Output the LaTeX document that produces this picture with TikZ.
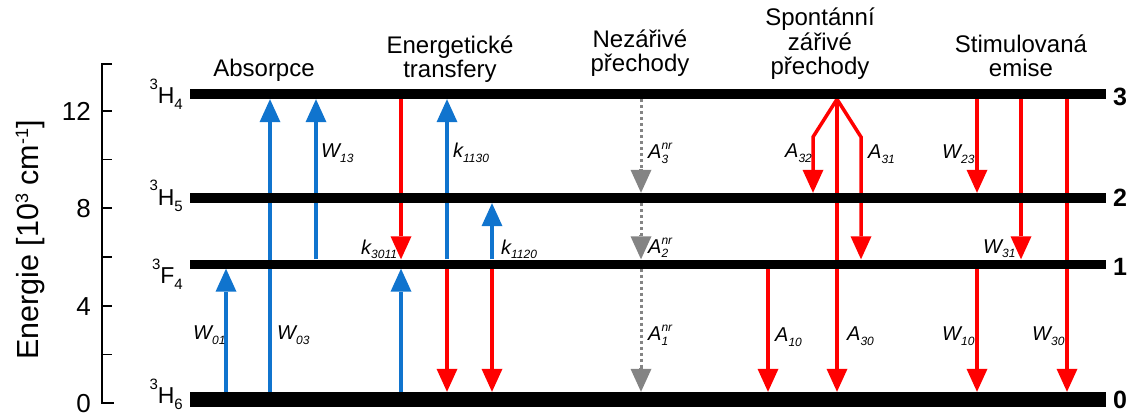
\documentclass[tikz,border=0pt]{standalone}
\usepackage{fontspec}
\setmainfont{Liberation Sans}
\usetikzlibrary{arrows.meta,backgrounds,calc}

\definecolor{absblue}{RGB}{16,116,206}
\definecolor{emitred}{RGB}{255,0,0}
\definecolor{nrgray}{RGB}{132,132,132}

% italic rate symbol with subscript
\newcommand\rate[2]{{\itshape #1}{\fontsize{12}{12}\selectfont\itshape\raisebox{-5pt}{#2}}}
% non-radiative rate: superscript nr over subscript index
\newcommand\ratenr[1]{{\itshape A}\rlap{\fontsize{12}{12}\selectfont\itshape\raisebox{9pt}{nr}}{\fontsize{12}{12}\selectfont\itshape\raisebox{-5pt}{#1}}}
% term symbol like 3H4
\newcommand\term[3]{{\fontsize{15}{15}\selectfont\raisebox{14pt}{#1}}#2{\fontsize{15}{15}\selectfont\raisebox{-6pt}{#3}}}
% dotted non-radiative step at column #1 from anchor #2 down to anchor #3
\newcommand\nrstep[3]{%
  \draw[nrline] (#1,0 |- #2) -- (#1,0 |- #3);
  \draw[nrhead] ($(#1,0 |- #3)+(0,-24)$) -- (#1,0 |- #3);}

\begin{document}
\begin{tikzpicture}[x=1pt,y=-1pt,
  level/.style={fill=black,inner sep=0pt,minimum width=916pt},
  arr/.style={line width=3.5pt,-{Triangle[width=21pt,length=23pt,line width=0pt]}},
  uparr/.style={arr,draw=absblue},
  downarr/.style={arr,draw=emitred},
  nrline/.style={draw=nrgray,line width=3pt,dash pattern=on 3pt off 3pt,shorten >=20pt},
  nrhead/.style={arr,draw=nrgray},
  ratelab/.style={anchor=base west,inner sep=0pt,font=\fontsize{20}{20}\selectfont},
  head/.style={align=center,anchor=base,inner sep=0pt,font=\fontsize{24}{24.5}\selectfont},
  termlab/.style={anchor=base east,inner sep=0pt,font=\fontsize{23}{23}\selectfont},
  levnum/.style={anchor=base west,inner sep=0pt,font=\fontsize{25}{25}\selectfont\bfseries},
  ticklab/.style={anchor=base east,inner sep=0pt,font=\fontsize{26}{26}\selectfont},
  axisline/.style={line width=1.6pt},
]
\useasboundingbox (0,0) rectangle (1136,417);

% energy levels
\node[level,minimum height=10pt] (L3) at (648,94) {};
\node[level,minimum height=10pt] (L2) at (648,198) {};
\node[level,minimum height=9pt]  (L1) at (648,264) {};
\node[level,minimum height=15pt] (L0) at (648,399.5) {};

% transitions, drawn beneath the level bars
\begin{scope}[on background layer]
  % absorption and upward energy transfer
  \draw[uparr] (226,0 |- L0.north) -- (226,0 |- L1.south);
  \draw[uparr] (270,0 |- L0.north) -- (270,0 |- L3.south);
  \draw[uparr] (316,0 |- L1.north) -- (316,0 |- L3.south);
  \draw[uparr] (401,0 |- L0.north) -- (401,0 |- L1.south);
  \draw[uparr] (447,0 |- L1.north) -- (447,0 |- L3.south);
  \draw[uparr] (492,0 |- L1.north) -- (492,0 |- L2.south);
  % downward energy transfer
  \draw[downarr] (401,0 |- L3.south) -- (401,0 |- L1.north);
  \draw[downarr] (447,0 |- L1.south) -- (447,0 |- L0.north);
  \draw[downarr] (492,0 |- L1.south) -- (492,0 |- L0.north);
  % non-radiative cascade
  \nrstep{641}{L3.south}{L2.north}
  \nrstep{641}{L2.south}{L1.north}
  \nrstep{641}{L1.south}{L0.north}
  % spontaneous radiative
  \draw[downarr] (768,0 |- L1.south) -- (768,0 |- L0.north);
  \draw[downarr] (837,0 |- L3.south) -- (837,0 |- L0.north);
  \draw[downarr] (837,0 |- L3.south) -- (813,137) -- (813,0 |- L2.north);
  \draw[downarr] (837,0 |- L3.south) -- (861,137) -- (861,0 |- L1.north);
  % stimulated emission
  \draw[downarr] (977,0 |- L3.south) -- (977,0 |- L2.north);
  \draw[downarr] (977,0 |- L1.south) -- (977,0 |- L0.north);
  \draw[downarr] (1021,0 |- L3.south) -- (1021,0 |- L1.north);
  \draw[downarr] (1067,0 |- L3.south) -- (1067,0 |- L0.north);
\end{scope}

% rate labels
\node[ratelab] (lW01) at (193,339) {\rate{W}{01}};
\node[ratelab] (lW03) at (277,339) {\rate{W}{03}};
\node[ratelab] (lW13) at (321,158) {\rate{W}{13}};
\node[ratelab] (lk1130) at (453,158) {\rate{k}{1130}};
\node[ratelab] (lk3011) at (361,254) {\rate{k}{3011}};
\node[ratelab] (lk1120) at (501,254) {\rate{k}{1120}};
\node[ratelab] (lA3) at (648,159) {\ratenr{3}};
\node[ratelab] (lA2) at (648,253) {\ratenr{2}};
\node[ratelab] (lA1) at (648,340) {\ratenr{1}};
\node[ratelab] (lA32) at (785,158) {\rate{A}{32}};
\node[ratelab] (lA31) at (868,159) {\rate{A}{31}};
\node[ratelab] (lA10) at (775,341) {\rate{A}{10}};
\node[ratelab] (lA30) at (847,340) {\rate{A}{30}};
\node[ratelab] (lW23) at (942,159) {\rate{W}{23}};
\node[ratelab] (lW31) at (983,253) {\rate{W}{31}};
\node[ratelab] (lW10) at (942,340) {\rate{W}{10}};
\node[ratelab] (lW30) at (1032,340) {\rate{W}{30}};

% column headings (anchored at the baseline of the last line)
\node[head] (hAbs) at (264,77) {Absorpce};
\node[head] (hET) at (450,78) {Energetické\\transfery};
\node[head] (hNR) at (640,72) {Nezářivé\\přechody};
\node[head] (hSp) at (820,75) {Spontánní\\zářivé\\přechody};
\node[head] (hSt) at (1021,77) {Stimulovaná\\emise};

% term symbols
\node[termlab] (t3) at (183,104) {\term{3}{H}{4}};
\node[termlab] (t2) at (183,205) {\term{3}{H}{5}};
\node[termlab] (t1) at (183,283) {\term{3}{F}{4}};
\node[termlab] (t0) at (183,403) {\term{3}{H}{6}};

% level indices
\node[levnum] (n3) at (1113,106) {3};
\node[levnum] (n2) at (1113,207) {2};
\node[levnum] (n1) at (1113,275) {1};
\node[levnum] (n0) at (1113,408) {0};

% energy axis
\draw[axisline] (112,64) -- (102,64) -- (102,403) -- (114,403);
\foreach \yy in {111,159.7,208.3,257,305.7,354.3}
  \draw[axisline] (102,\yy) -- (112,\yy);
\node[ticklab] (y12) at (91,121) {12};
\node[ticklab] (y8) at (91,218) {8};
\node[ticklab] (y4) at (91,315) {4};
\node[ticklab] (y0) at (91,412) {0};
\node[rotate=90,anchor=base,inner sep=0pt,font=\fontsize{30.5}{30.5}\selectfont] (ytitle) at (38,240)
  {Energie [10\raisebox{10pt}{\fontsize{18}{18}\selectfont 3} cm\raisebox{10pt}{\fontsize{18}{18}\selectfont -1}]};
\end{tikzpicture}
\end{document}
